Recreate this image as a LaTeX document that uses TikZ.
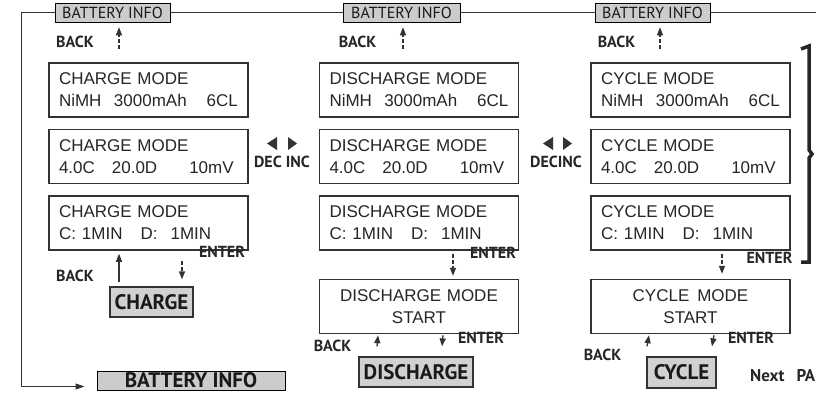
\documentclass[tikz,border=0pt]{standalone}
\usepackage{fontspec}
\setmainfont{Liberation Sans}
\newfontfamily\keyfont{PT Sans}
\usetikzlibrary{positioning, arrows.meta}
\tikzset{
    lcd/.style={rectangle, draw=black!80, line width=1.5pt, fill=white, minimum width=199pt, minimum height=54pt, text width=179pt, inner xsep=10pt, align=left, text=black!85, font=\fontsize{17}{22}\selectfont},
    lcdstart/.style={lcd, align=center},
    tab/.style={rectangle, draw=black, line width=1pt, fill=black!20, inner sep=0pt, minimum height=19pt, text=black!90, font=\keyfont\fontsize{16}{16}\selectfont},
    modebox/.style={rectangle, draw=black!80, line width=1.2pt, fill=black!18, inner sep=0pt, minimum height=30pt, text=black!90, font=\keyfont\bfseries\fontsize{21}{21}\selectfont},
    key/.style={inner sep=0pt, text=black!85, font=\keyfont\bfseries\fontsize{16}{16}\selectfont},
    frame/.style={line width=1.1pt, draw=black!80},
    dasharrow/.style={line width=1.3pt, draw=black!80, dash pattern=on 4pt off 2pt, -{Triangle[length=8pt, width=6pt]}},
    solidarrow/.style={line width=1.3pt, draw=black!80, -{Triangle[length=8pt, width=6pt]}},
    tri/.style={fill=black!80}
}

\begin{document}
\begin{tikzpicture}[x=1pt, y=-1pt]
        \useasboundingbox (0,0) rectangle (816,394);
        \clip (0,0) rectangle (816,394);

        \node (c1tab) [tab, minimum width=115pt] at (112.5,12.5) {BATTERY INFO};
        \node (c2tab) [tab, minimum width=117pt] at (401.5,12.5) {BATTERY INFO};
        \node (c3tab) [tab, minimum width=115pt] at (652.5,12.5) {BATTERY INFO};
        \node (infotab) [tab, minimum width=188pt, minimum height=19pt, font=\keyfont\bfseries\fontsize{21}{21}\selectfont] at (191,380.5) {BATTERY INFO};

        \node (c1a) [lcd] at (148.5,90) {CHARGE MODE\\NiMH\hspace{12.5pt}3000mAh\hspace{20pt}6CL};
        \node (c1b) [lcd, below=11pt of c1a] {CHARGE MODE\\4.0C\hspace{17pt}20.0D\hspace{32pt}10mV};
        \node (c1c) [lcd, below=11pt of c1b] {CHARGE MODE\\C:\hspace{6pt}1MIN\hspace{18pt}D:\hspace{13pt}1MIN};

        \node (c2a) [lcd, right=70pt of c1a] {DISCHARGE MODE\\NiMH\hspace{12.5pt}3000mAh\hspace{20pt}6CL};
        \node (c2b) [lcd, below=11pt of c2a] {DISCHARGE MODE\\4.0C\hspace{17pt}20.0D\hspace{32pt}10mV};
        \node (c2c) [lcd, below=11pt of c2b] {DISCHARGE MODE\\C:\hspace{6pt}1MIN\hspace{18pt}D:\hspace{13pt}1MIN};
        \node (c2d) [lcdstart, below=28pt of c2c] {DISCHARGE MODE\\START};

        \node (c3a) [lcd, right=71pt of c2a] {CYCLE MODE\\NiMH\hspace{12.5pt}3000mAh\hspace{20pt}6CL};
        \node (c3b) [lcd, below=11pt of c3a] {CYCLE MODE\\4.0C\hspace{17pt}20.0D\hspace{32pt}10mV};
        \node (c3c) [lcd, below=11pt of c3b] {CYCLE MODE\\C:\hspace{6pt}1MIN\hspace{18pt}D:\hspace{13pt}1MIN};
        \node (c3d) [lcdstart, below=28pt of c3c] {CYCLE\hspace{8pt}MODE\\START};

        \node (charge) [modebox, minimum width=83pt] at (151.5,302) {CHARGE};
        \node (discharge) [modebox, minimum width=114pt] at (416,372) {DISCHARGE};
        \node (cycle) [modebox, minimum width=69pt, minimum height=31pt] at (681.5,372.5) {CYCLE};

        \node (back1) [key] at (75,42) {BACK};
        \node (back2) [key] at (357.5,42) {BACK};
        \node (back3) [key] at (616.5,42) {BACK};
        \node (back4) [key] at (75,276) {BACK};
        \node (back5) [key] at (332.5,346) {BACK};
        \node (back6) [key] at (602.5,355) {BACK};
        \node (enter1) [key] at (222,252) {ENTER};
        \node (enter2) [key] at (493,253) {ENTER};
        \node (enter3) [key] at (769.5,258) {ENTER};
        \node (enter4) [key] at (481,338) {ENTER};
        \node (enter5) [key] at (751,338) {ENTER};
        \node (decinc1) [key] at (282,162) {DEC INC};
        \node (decinc2) [key] at (556,162) {DECINC};
        \node (nextpage) [key, anchor=west, font=\keyfont\bfseries\fontsize{17}{17}\selectfont] at (750,376) {Next\hspace{12pt}PA};

        \fill[tri] (267,143.5) -- (277,137) -- (277,150) -- cycle;
        \fill[tri] (297,143.5) -- (288,137) -- (288,150) -- cycle;
        \fill[tri] (543,143.5) -- (553,137) -- (553,150) -- cycle;
        \fill[tri] (572,143.5) -- (563,137) -- (563,150) -- cycle;

        \draw[frame] (c1tab.east) -- (c2tab.west);
        \draw[frame] (c2tab.east) -- (c3tab.west);
        \draw[frame] (c3tab.east) -- ++(110,0);
        \draw[frame, -{Triangle[length=9pt, width=6pt]}] (c1tab.west) -- ++(-33,0) |- ([xshift=-12pt, yshift=-6pt]infotab.west);

        \draw[dasharrow] ([xshift=-29.5pt, yshift=13pt]c1a.north) -- ([xshift=-29.5pt, yshift=35pt]c1a.north);
        \draw[dasharrow] ([xshift=-16pt, yshift=13pt]c2a.north) -- ([xshift=-16pt, yshift=35pt]c2a.north);
        \draw[dasharrow] ([xshift=-30.5pt, yshift=13pt]c3a.north) -- ([xshift=-30.5pt, yshift=35pt]c3a.north);

        \draw[solidarrow] ([xshift=-32.5pt, yshift=4pt]charge.north) -- ([xshift=-29.5pt, yshift=-3pt]c1c.south);
        \draw[dasharrow] ([xshift=33.5pt, yshift=-10pt]c1c.south) -- ([xshift=30.5pt, yshift=7pt]charge.north);
        \draw[dasharrow] ([xshift=34pt, yshift=-3pt]c2c.south) -- ([xshift=34pt, yshift=3pt]c2d.north);
        \draw[dasharrow] ([xshift=31.5pt, yshift=-3pt]c3c.south) -- ([xshift=31.5pt, yshift=5pt]c3d.north);

        \draw[dasharrow] ([xshift=-39pt, yshift=10pt]discharge.north) -- ([xshift=-41pt, yshift=-1pt]c2d.south);
        \draw[dasharrow] ([xshift=24pt, yshift=-1pt]c2d.south) -- ([xshift=26pt, yshift=10pt]discharge.north);
        \draw[dasharrow] ([xshift=-34.5pt, yshift=10pt]cycle.north) -- ([xshift=-41.5pt, yshift=-1pt]c3d.south);
        \draw[dasharrow] ([xshift=23.5pt, yshift=-1pt]c3d.south) -- ([xshift=30.5pt, yshift=10pt]cycle.north);

        \draw[line width=3.5pt, black!85] (801,49) -- (809,46) -- (809,150) -- (812,154) -- (809,158) -- (809,262) -- (801,262);
\end{tikzpicture}
\end{document}
